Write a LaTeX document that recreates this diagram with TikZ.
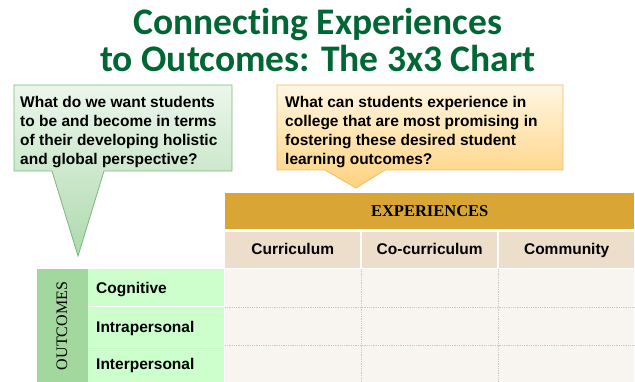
\documentclass[tikz,border=0pt]{standalone}
\usepackage{fontspec}
\setmainfont{Liberation Sans}
\newfontfamily\titlefont[Ligatures=NoCommon]{Carlito}
\newfontfamily\timesfont{Liberation Serif}
\definecolor{titlegreen}{RGB}{0,102,51}
\definecolor{greentop}{RGB}{236,246,236}
\definecolor{greenbot}{RGB}{174,218,174}
\definecolor{greenline}{RGB}{122,184,122}
\definecolor{orangetop}{RGB}{255,246,226}
\definecolor{orangebot}{RGB}{255,210,126}
\definecolor{orangeline}{RGB}{236,190,96}
\definecolor{gold}{RGB}{217,166,53}
\definecolor{beige}{RGB}{237,222,204}
\definecolor{cellbg}{RGB}{248,244,239}
\definecolor{gridgray}{RGB}{205,198,190}
\definecolor{outgreen}{RGB}{162,216,158}
\definecolor{labelgreen}{RGB}{204,255,204}

\begin{document}
\begin{tikzpicture}[x=1pt,y=-1pt,
    title/.style={font=\titlefont\fontsize{37.5}{38}\selectfont\bfseries, text=titlegreen, inner sep=0, anchor=base},
    txt/.style={font=\fontsize{15.5}{19}\selectfont\bfseries, inner sep=0},
    question/.style={txt, align=left, anchor=north west},
    head/.style={txt, fill=beige, minimum width=135pt, minimum height=36pt, anchor=north west,
        text height=11pt, text depth=3pt},
    rowlabel/.style={txt, anchor=base west},
    gridline/.style={gridgray, densely dotted, line width=0.8pt}]
    \useasboundingbox (0,0) rectangle (635,382);

    % Titulo
    \node[title] (title1) at (318,35) {Connecting Experiences};
    \node[title] (title2) at (318,72) {to Outcomes: The 3x3 Chart};

    % Balao verde
    \shade[top color=greentop, bottom color=greenbot, draw=greenline, line width=0.8pt]
        (14,85) -- (232,85) -- (232,171) -- (104,171) -- (78,256) -- (52,171) -- (14,171) -- cycle;
    \node[question] (qout) at (20,96) {What do we want students\\to be and become in terms\\of their developing holistic\\and global perspective?};

    % Balao laranja
    \shade[top color=orangetop, bottom color=orangebot, draw=orangeline, line width=0.8pt]
        (277,85) -- (563,85) -- (563,170) -- (385,170) -- (356,188) -- (325,170) -- (277,170) -- cycle;
    \node[question] (qexp) at (285,96) {What can students experience in\\college that are most promising in\\fostering these desired student\\learning outcomes?};

    % Cabecalho
    \node[txt, fill=gold, minimum width=409pt, minimum height=36pt, anchor=north west,
        font=\timesfont\fontsize{16.5}{18}\selectfont\bfseries] (exp) at (225,193) {EXPERIENCES};
    \node[head] (curr) at (225,232) {Curriculum};
    \node[head] (cocurr) at (362,232) {Co-curriculum};
    \node[head] (comm) at (499,232) {Community};

    % Celulas
    \fill[cellbg] (225,269) rectangle (634,382);
    \draw[gridline] (361,269) -- (361,382);
    \draw[gridline] (498,269) -- (498,382);
    \draw[gridline] (225,307) -- (634,307);
    \draw[gridline] (225,345) -- (634,345);

    % Resultados
    \fill[outgreen] (37,269) rectangle (88,382);
    \fill[labelgreen] (88,269) rectangle (224,382);
    \draw[white, line width=1pt] (88,307) -- (224,307);
    \draw[white, line width=1pt] (88,345) -- (224,345);
    \node[rotate=90, inner sep=0, font=\timesfont\fontsize{16}{18}\selectfont] (out) at (62,326) {OUTCOMES};
    \node[rowlabel] (cog) at (96,294) {Cognitive};
    \node[rowlabel] (intra) at (96,332) {Intrapersonal};
    \node[rowlabel] (inter) at (96,370) {Interpersonal};
\end{tikzpicture}
\end{document}
